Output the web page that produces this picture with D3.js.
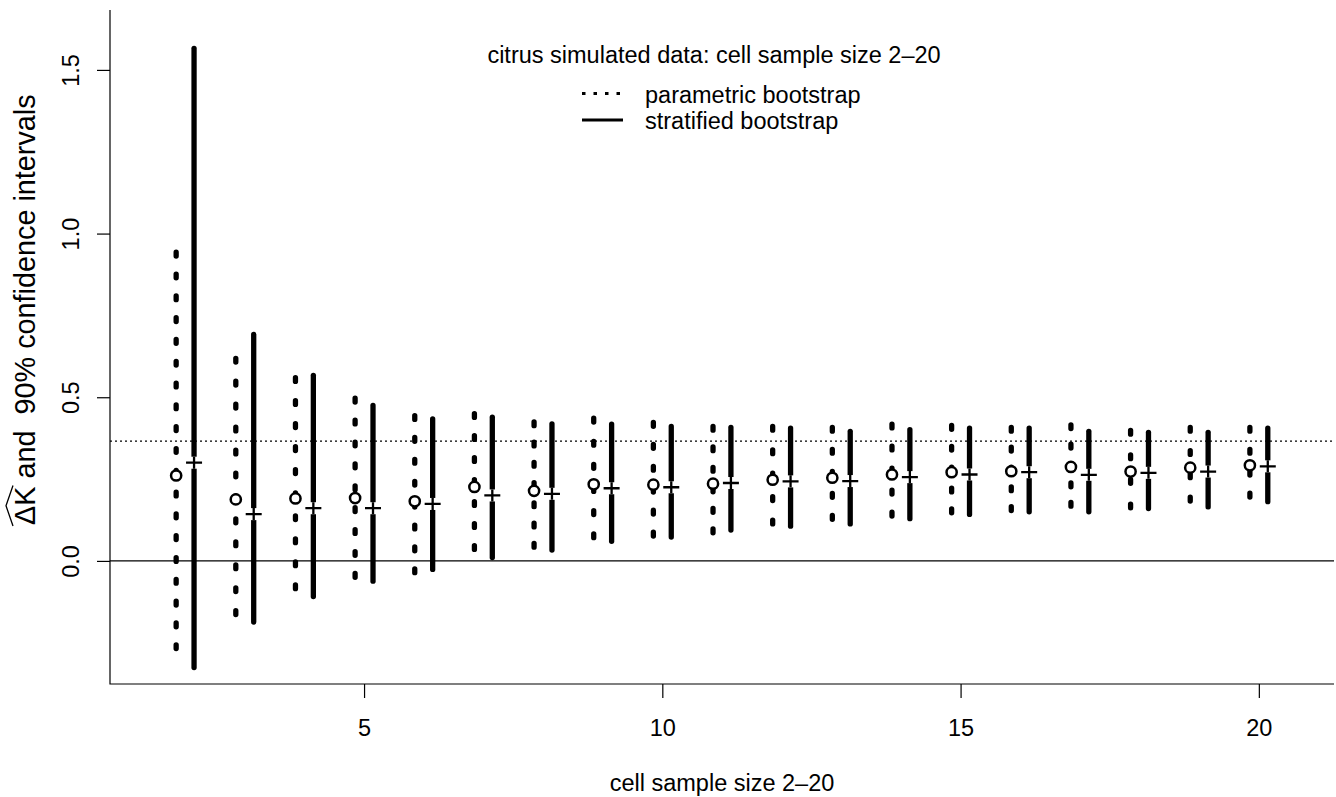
<!DOCTYPE html>
<html>
<head>
<meta charset="utf-8">
<script src="https://cdn.jsdelivr.net/npm/d3@7"></script>
<style>
    body { margin: 0; background: #ffffff; }
    text { font-family: "Liberation Sans", Arial, sans-serif; fill: #000000; }
</style>
</head>
<body>
<div id="chart"></div>
<script>

// cell sample size
const sizes = [2, 3, 4, 5, 6, 7, 8, 9, 10, 11, 12, 13, 14, 15, 16, 17, 18, 19, 20];

// parametric bootstrap: estimate (circle) and 90% interval
const paramEst = [0.261, 0.188, 0.191, 0.192, 0.182, 0.226, 0.214, 0.234, 0.233, 0.236, 0.248, 0.254, 0.264, 0.271, 0.274, 0.287, 0.273, 0.285, 0.292];
const paramLo  = [-0.276, -0.172, -0.093, -0.058, -0.044, 0.027, 0.034, 0.063, 0.068, 0.078, 0.105, 0.119, 0.129, 0.139, 0.146, 0.159, 0.154, 0.175, 0.187];
const paramHi  = [0.951, 0.627, 0.568, 0.505, 0.452, 0.458, 0.433, 0.444, 0.431, 0.419, 0.419, 0.416, 0.426, 0.422, 0.416, 0.424, 0.407, 0.416, 0.416];

// stratified bootstrap: estimate (plus) and 90% interval
const stratEst = [0.300, 0.143, 0.161, 0.161, 0.174, 0.200, 0.205, 0.222, 0.225, 0.238, 0.243, 0.244, 0.256, 0.264, 0.271, 0.263, 0.269, 0.273, 0.289];
const stratLo  = [-0.334, -0.195, -0.117, -0.070, -0.034, 0.002, 0.025, 0.052, 0.065, 0.086, 0.098, 0.105, 0.121, 0.134, 0.142, 0.142, 0.152, 0.157, 0.173];
const stratHi  = [1.574, 0.700, 0.575, 0.483, 0.442, 0.447, 0.427, 0.426, 0.419, 0.416, 0.414, 0.404, 0.409, 0.414, 0.414, 0.404, 0.401, 0.401, 0.414];

// reference level (dotted horizontal line)
const refLevel = 0.366;

const xTicks = [5, 10, 15, 20];
const yTicks = [0, 0.5, 1.0, 1.5];

const legendTitle = "citrus simulated data: cell sample size 2\u201320";
const legendLabels = ["parametric bootstrap", "stratified bootstrap"];
const xLabel = "cell sample size 2\u201320";
const yLabelRest = " and  90% confidence intervals";

const width = 1336, height = 797;
const plot = {left: 110, right: 1334, top: 10, bottom: 684};

const x = d3.scaleLinear().domain([0.741, 21.26]).range([plot.left, plot.right]);
const y = d3.scaleLinear().domain([-0.376, 1.683]).range([plot.bottom, plot.top]);

const lw = 5.3;       // interval line width
const cap = lw / 2;   // round cap overhang
const shift = 0.15;   // horizontal offset of the two methods
const dot = 3.8;      // dash length of the dotted intervals
const period = 22;    // dot spacing

const rows = sizes.map((n, i) => ({
    n: n,
    pEst: paramEst[i], pLo: paramLo[i], pHi: paramHi[i],
    sEst: stratEst[i], sLo: stratLo[i], sHi: stratHi[i]
}));

// dash pattern that starts and ends on a dot
function fitDots(d) {
    const len = (y(d.pLo) - cap) - (y(d.pHi) + cap);
    const k = Math.max(1, Math.round((len - dot) / period));
    const gap = (len - (k + 1) * dot) / k;
    return `${dot} ${gap}`;
}

const svg = d3.select("#chart").append("svg")
    .attr("width", width)
    .attr("height", height);

// reference lines
svg.append("line")
    .attr("x1", plot.left).attr("x2", plot.right)
    .attr("y1", y(0)).attr("y2", y(0))
    .attr("stroke", "#000").attr("stroke-width", 1.2);

svg.append("line")
    .attr("x1", plot.left).attr("x2", plot.right)
    .attr("y1", y(refLevel)).attr("y2", y(refLevel))
    .attr("stroke", "#000").attr("stroke-width", 1.2)
    .attr("stroke-dasharray", "2 3");

// parametric intervals, dotted
svg.append("g")
    .selectAll("line")
    .data(rows)
    .join("line")
    .attr("x1", d => x(d.n - shift))
    .attr("x2", d => x(d.n - shift))
    .attr("y1", d => y(d.pLo) - cap)
    .attr("y2", d => y(d.pHi) + cap)
    .attr("stroke", "#000")
    .attr("stroke-width", lw)
    .attr("stroke-linecap", "round")
    .attr("stroke-dasharray", fitDots);

// stratified intervals, solid
svg.append("g")
    .selectAll("line")
    .data(rows)
    .join("line")
    .attr("x1", d => x(d.n + shift))
    .attr("x2", d => x(d.n + shift))
    .attr("y1", d => y(d.sLo) - cap)
    .attr("y2", d => y(d.sHi) + cap)
    .attr("stroke", "#000")
    .attr("stroke-width", lw)
    .attr("stroke-linecap", "round");

// parametric estimates
svg.append("g")
    .selectAll("circle")
    .data(rows)
    .join("circle")
    .attr("cx", d => x(d.n - shift))
    .attr("cy", d => y(d.pEst))
    .attr("r", 5.1)
    .attr("fill", "#fff")
    .attr("stroke", "#000")
    .attr("stroke-width", 2.5);

// stratified estimates: plus on a small white patch
const plus = svg.append("g")
    .selectAll("g")
    .data(rows)
    .join("g")
    .attr("transform", d => `translate(${x(d.n + shift)},${y(d.sEst)})`);

plus.append("rect")
    .attr("x", -4).attr("y", -6)
    .attr("width", 8).attr("height", 12)
    .attr("fill", "#fff");

plus.append("path")
    .attr("d", "M-8,0H8M0,-6V6")
    .attr("stroke", "#000")
    .attr("stroke-width", 2.3)
    .attr("fill", "none");

// box (left and bottom only)
svg.append("path")
    .attr("d", `M${plot.left},${plot.top}V${plot.bottom}H${plot.right}`)
    .attr("fill", "none")
    .attr("stroke", "#000")
    .attr("stroke-width", 1.2);

// x axis
const xAxis = svg.append("g")
    .attr("transform", `translate(0,${plot.bottom})`)
    .call(d3.axisBottom(x).tickValues(xTicks).tickSize(14).tickFormat(d3.format("d")));
xAxis.select(".domain").remove();
xAxis.selectAll("line").attr("stroke-width", 1.2);
xAxis.selectAll("text")
    .attr("y", 52).attr("dy", 0)
    .style("font-size", "23.5px")
    .style("font-family", "Liberation Sans, Arial, sans-serif");

// y axis, labels turned like R
const yAxis = svg.append("g")
    .attr("transform", `translate(${plot.left},0)`)
    .call(d3.axisLeft(y).tickValues(yTicks).tickSize(13).tickFormat(d3.format(".1f")));
yAxis.select(".domain").remove();
yAxis.selectAll("line").attr("stroke-width", 1.2);
yAxis.selectAll("text")
    .attr("transform", "rotate(-90)")
    .attr("x", 0).attr("y", -31).attr("dy", 0)
    .attr("text-anchor", "middle")
    .style("font-size", "23.5px")
    .style("font-family", "Liberation Sans, Arial, sans-serif");

// x label
svg.append("text")
    .attr("x", (plot.left + plot.right) / 2)
    .attr("y", 791)
    .attr("text-anchor", "middle")
    .style("font-size", "23.5px")
    .text(xLabel);

// y label with a wide hat over Delta K
const yl = svg.append("g")
    .attr("transform", "translate(35,525) rotate(-90)");

const dk = yl.append("text")
    .attr("x", 0).attr("y", 0)
    .style("font-size", "28.8px")
    .text("\u0394K");

const dkw = dk.node().getComputedTextLength();

yl.append("text")
    .attr("x", dkw).attr("y", 0)
    .attr("xml:space", "preserve")
    .style("white-space", "pre")
    .style("font-size", "28.8px")
    .text(yLabelRest);

yl.append("path")
    .attr("d", `M${-1},-22L${dkw / 2},-29L${dkw + 1},-22`)
    .attr("fill", "none")
    .attr("stroke", "#000")
    .attr("stroke-width", 1.3);

// legend
const legend = svg.append("g");

legend.append("text")
    .attr("x", 714)
    .attr("y", 63)
    .attr("text-anchor", "middle")
    .style("font-size", "23.5px")
    .text(legendTitle);

const legendRows = [
    {label: legendLabels[0], dash: "3.5 8", y: 93.5},
    {label: legendLabels[1], dash: null, y: 120}
];

legendRows.forEach(function (r) {
    legend.append("line")
        .attr("x1", 582).attr("x2", 623)
        .attr("y1", r.y).attr("y2", r.y)
        .attr("stroke", "#000")
        .attr("stroke-width", 3)
        .attr("stroke-dasharray", r.dash);
    legend.append("text")
        .attr("x", 645)
        .attr("y", r.y + 9)
        .style("font-size", "23.5px")
        .text(r.label);
});

</script>
</body>
</html>
